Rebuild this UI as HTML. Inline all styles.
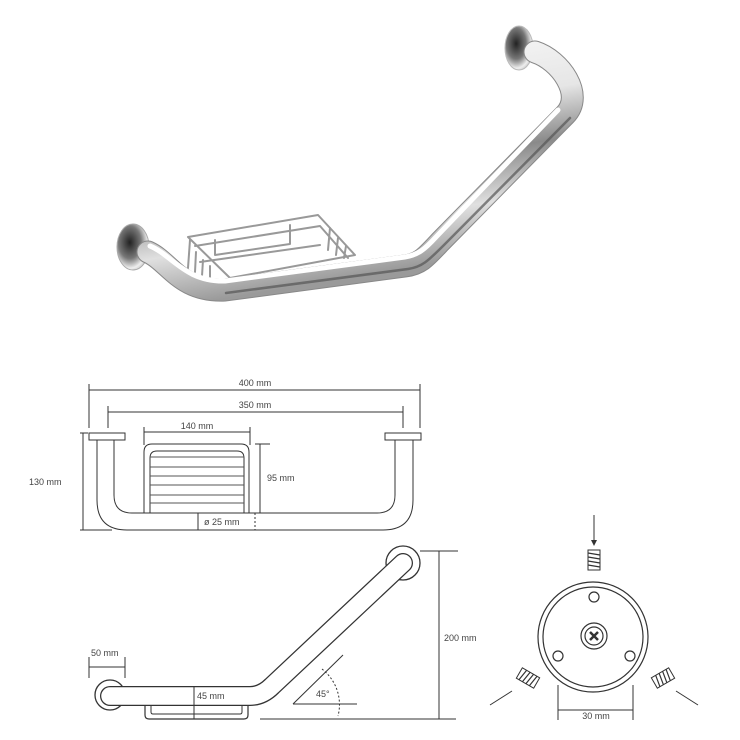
<!DOCTYPE html>
<html><head><meta charset="utf-8"><style>
html,body{margin:0;padding:0;background:#fff}
svg{display:block}
text{font-family:"Liberation Sans",sans-serif;font-size:9px;fill:#444}
</style></head><body>
<svg width="740" height="740" viewBox="0 0 740 740" xmlns="http://www.w3.org/2000/svg">
<defs>
<linearGradient id="chrome" x1="0" y1="0" x2="0.3" y2="1">
<stop offset="0" stop-color="#ffffff"/><stop offset="0.4" stop-color="#e6e6e6"/><stop offset="0.6" stop-color="#8a8a8a"/><stop offset="0.8" stop-color="#e0e0e0"/><stop offset="1" stop-color="#9a9a9a"/>
</linearGradient>
<radialGradient id="fl" cx="0.4" cy="0.4" r="0.7"><stop offset="0" stop-color="#222"/><stop offset="0.5" stop-color="#777"/><stop offset="0.8" stop-color="#eee"/><stop offset="1" stop-color="#bbb"/></radialGradient>
</defs>
<!-- PHOTO -->
<g fill="none" stroke-linecap="round" stroke-linejoin="round">
 <g stroke="#999" stroke-width="2">
  <path d="M188 237 L318 215 L355 255 L230 278 Z"/>
  <path d="M195 246 L320 226 L348 258"/>
  <path d="M215 240 L215 255 L290 244 L290 225"/>
  <path d="M190 240 L188 268 M196 252 L195 272 M203 260 L202 276 M210 266 L210 280"/>
  <path d="M330 228 L328 250 M338 238 L336 255 M346 246 L344 258"/>
  <path d="M200 262 L320 245"/>
 </g>
 <ellipse cx="133" cy="247" rx="16" ry="23" fill="url(#fl)" stroke="#aaa" stroke-width="1"/>
 <ellipse cx="519" cy="48" rx="14" ry="22" fill="url(#fl)" stroke="#bbb" stroke-width="1"/>
 <path d="M148 252 C170 262 180 292 225 290 L405 266 C420 264 425 258 440 242 L565 115 C585 95 560 60 535 52" stroke="#888" stroke-width="23"/>
 <path d="M148 252 C170 262 180 292 225 290 L405 266 C420 264 425 258 440 242 L565 115 C585 95 560 60 535 52" stroke="url(#chrome)" stroke-width="21"/>
 <path d="M150 246 C172 255 185 282 225 281 L405 257 C418 255 425 249 436 237 L558 110" stroke="#fff" stroke-width="5"/>
 <path d="M226 293 L408 269 C422 267 428 261 444 245 L570 118" stroke="#555" stroke-width="2.5" opacity="0.7"/>
</g>

<!-- TOP VIEW -->
<g fill="none" stroke="#333" stroke-width="1">
 <line x1="89" y1="390" x2="420" y2="390"/>
 <line x1="89" y1="384" x2="89" y2="428"/><line x1="420" y1="384" x2="420" y2="428"/>
 <line x1="108" y1="412" x2="403" y2="412"/>
 <line x1="108" y1="406" x2="108" y2="428"/><line x1="403" y1="406" x2="403" y2="428"/>
 <line x1="144" y1="432" x2="250" y2="432"/>
 <line x1="144" y1="427" x2="144" y2="445"/><line x1="250" y1="427" x2="250" y2="445"/>
 <rect x="89" y="433" width="36" height="7"/>
 <rect x="385" y="433" width="36" height="7"/>
 <path d="M97 440 L97 500 Q97 530 127 530 L383 530 Q413 530 413 500 L413 440"/>
 <path d="M114 440 L114 495 Q114 513 132 513 L377 513 Q395 513 395 495 L395 440"/>
 <path d="M144 513 L144 452 Q144 444 152 444 L241 444 Q249 444 249 452 L249 513"/>
 <path d="M150 513 L150 458 Q150 451 157 451 L237 451 Q244 451 244 458 L244 513"/>
 <g stroke="#555"><line x1="150" y1="457" x2="244" y2="457"/><line x1="150" y1="467" x2="244" y2="467"/><line x1="150" y1="476" x2="244" y2="476"/><line x1="150" y1="485" x2="244" y2="485"/><line x1="150" y1="495" x2="244" y2="495"/><line x1="150" y1="503" x2="244" y2="503"/></g>
 <line x1="260" y1="444" x2="260" y2="513"/><line x1="255" y1="444" x2="270" y2="444"/>
 <line x1="83" y1="433" x2="83" y2="530"/><line x1="80" y1="433" x2="88" y2="433"/><line x1="80" y1="530" x2="112" y2="530"/>
 <line x1="198" y1="513" x2="198" y2="530"/>
 <line x1="255" y1="513" x2="255" y2="530" stroke-dasharray="2,2"/>
</g>
<text x="255" y="386" text-anchor="middle">400 mm</text>
<text x="255" y="408" text-anchor="middle">350 mm</text>
<text x="197" y="429" text-anchor="middle">140 mm</text>
<text x="267" y="481">95 mm</text>
<text x="29" y="485">130 mm</text>
<text x="204" y="525">ø 25 mm</text>

<!-- SIDE VIEW -->
<g fill="none" stroke-linecap="round" stroke-linejoin="round">
 <circle cx="110" cy="695" r="15" stroke="#333" stroke-width="1.3" fill="#fff"/>
 <circle cx="403" cy="563" r="17" stroke="#333" stroke-width="1.3" fill="#fff"/>
 <path d="M110 696 L250 696 Q262 696 272 686 L403 563" stroke="#333" stroke-width="20"/>
 <path d="M110 696 L250 696 Q262 696 272 686 L403 563" stroke="#fff" stroke-width="17.5"/>
 <path d="M145 706 L145 715 Q145 719 149 719 L244 719 Q248 719 248 715 L248 706" stroke="#333" stroke-width="1.2"/>
 <path d="M151 706 L151 712 Q151 714 153 714 L240 714 Q242 714 242 712 L242 706" stroke="#333" stroke-width="1"/>
</g>
<g fill="none" stroke="#333" stroke-width="1">
 <line x1="194" y1="687" x2="194" y2="719"/>
 <line x1="89" y1="667" x2="125" y2="667"/><line x1="89" y1="657" x2="89" y2="678"/><line x1="125" y1="657" x2="125" y2="678"/>
 <line x1="293" y1="704" x2="357" y2="704"/><line x1="293" y1="704" x2="343" y2="655"/>
 <path d="M322 669 A45 45 0 0 1 338 716" stroke-dasharray="2,2"/>
 <line x1="420" y1="551" x2="458" y2="551"/><line x1="260" y1="719" x2="456" y2="719"/>
 <line x1="439" y1="551" x2="439" y2="719"/>
</g>
<text x="91" y="656">50 mm</text>
<text x="197" y="699">45 mm</text>
<text x="316" y="697">45°</text>
<text x="444" y="641">200 mm</text>

<!-- FLANGE VIEW -->
<g fill="none" stroke="#333" stroke-width="1.2">
 <circle cx="593" cy="637" r="55"/><circle cx="593" cy="637" r="50"/>
 <circle cx="594" cy="597" r="5"/><circle cx="558" cy="656" r="5"/><circle cx="630" cy="656" r="5"/>
 <circle cx="594" cy="636" r="13"/><circle cx="594" cy="636" r="9"/>
 <path d="M590 632 L598 640 M598 632 L590 640" stroke-width="2.5"/>
 <line x1="594" y1="515" x2="594" y2="541" stroke-width="1"/>
 <line x1="490" y1="705" x2="512" y2="691" stroke-width="1"/>
 <line x1="698" y1="705" x2="676" y2="691" stroke-width="1"/>
 <line x1="558" y1="685" x2="558" y2="720" stroke-width="1"/><line x1="633" y1="685" x2="633" y2="720" stroke-width="1"/>
 <line x1="558" y1="710" x2="633" y2="710" stroke-width="1"/>
</g>
<path d="M591 540 L594 546 L597 540 Z" fill="#333"/>
<g stroke="#333" stroke-width="1" fill="#fff">
 <rect x="588" y="550" width="12" height="20"/>
 <path d="M588 553 L600 555 M588 557 L600 559 M588 561 L600 563 M588 565 L600 567" stroke-width="1.2"/>
</g>
<g transform="rotate(-60 528 678) translate(-66 118)" stroke="#333" stroke-width="1" fill="#fff">
 <rect x="588" y="550" width="12" height="20"/>
 <path d="M588 553 L600 555 M588 557 L600 559 M588 561 L600 563 M588 565 L600 567" stroke-width="1.2"/>
</g>
<g transform="rotate(60 663 678) translate(69 118)" stroke="#333" stroke-width="1" fill="#fff">
 <rect x="588" y="550" width="12" height="20"/>
 <path d="M588 553 L600 555 M588 557 L600 559 M588 561 L600 563 M588 565 L600 567" stroke-width="1.2"/>
</g>
<text x="596" y="719" text-anchor="middle">30 mm</text>
</svg>
</body></html>
